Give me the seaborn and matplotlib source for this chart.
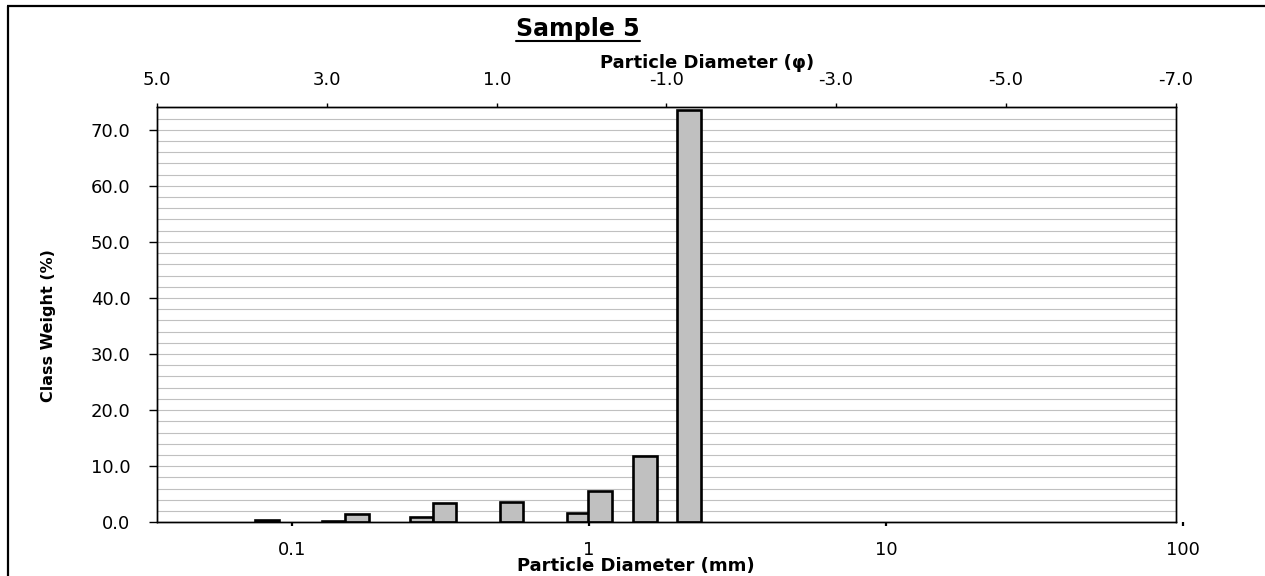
import numpy as np
import pandas as pd
import matplotlib
matplotlib.use("Agg")
import matplotlib.pyplot as plt
import seaborn as sns
from matplotlib.ticker import MultipleLocator, NullLocator
from matplotlib.lines import Line2D

# ---------------- data ----------------
diameter_mm = [0.0824, 0.138, 0.1655, 0.273, 0.327, 0.548, 0.923, 1.088, 1.546, 2.174]
class_weight = [0.4, 0.3, 1.5, 1.0, 3.4, 3.6, 1.7, 5.5, 11.9, 73.6]
y_ticks = [0, 10, 20, 30, 40, 50, 60, 70]
phi_ticks = [5.0, 3.0, 1.0, -1.0, -3.0, -5.0, -7.0]
mm_ticks = [0.1, 1, 10, 100]
mm_tick_labels = ["0.1", "1", "10", "100"]
title_text = "Sample 5"
x_label_mm = "Particle Diameter (mm)"
x_label_phi = "Particle Diameter (\u03c6)"
y_label = "Class Weight (%)"

# ---------------- style ----------------
sns.set_theme(style="white")
plt.rcParams["font.family"] = ["DejaVu Sans"]

W, H = 1265, 576
fig = plt.figure(figsize=(W / 100, H / 100), dpi=100)
fig.patch.set_facecolor("white")
fig.patch.set_edgecolor("white")
fig.patch.set_linewidth(0)


def fx(p):
    return p / W


def fy(p):
    return 1 - p / H


# plot-area pixel box
L, R, T, B = 157.3, 1175.5, 107.3, 522.3
ONE_MM_PX = 589.0
DECADE_PX = 297.2

ax = fig.add_axes([fx(L), fy(B), (R - L) / W, (B - T) / H])

df = pd.DataFrame({"d": diameter_mm, "w": class_weight})
log_d = np.log10(np.sort(df["d"].to_numpy()))
min_gap = np.min(np.diff(log_d))
bar_log_width = 0.079

sns.barplot(data=df, x="d", y="w", native_scale=True, log_scale=(10, False),
            width=bar_log_width / min_gap, color="#c0c0c0", saturation=1,
            edgecolor="black", linewidth=1.9, errorbar=None, ax=ax, zorder=3)

ax.set_xscale("log")
ax.set_xlim(10 ** ((L - ONE_MM_PX) / DECADE_PX), 10 ** ((R - ONE_MM_PX) / DECADE_PX))
ax.set_ylim(0, 74)
ax.set_xlabel("")
ax.set_ylabel("")
ax.xaxis.set_major_locator(NullLocator())
ax.xaxis.set_minor_locator(NullLocator())
ax.tick_params(axis="x", which="both", bottom=False, labelbottom=False)

ax.set_yticks(y_ticks, labels=[f"{v:.1f}" for v in y_ticks])
ax.yaxis.set_minor_locator(MultipleLocator(2))
ax.tick_params(axis="y", which="major", left=True, direction="out", length=5.8,
               width=1.0, color="black", labelsize=13, pad=13.5, labelcolor="black")
ax.tick_params(axis="y", which="minor", left=False, length=0)
ax.grid(axis="y", which="both", color="#c0c0c0", linewidth=0.8)
ax.grid(axis="x", visible=False)
ax.set_axisbelow(True)
for s in ax.spines.values():
    s.set_visible(True)
    s.set_color("black")
    s.set_linewidth(1.0)

# ---------------- top phi axis ----------------
axt = ax.twiny()
axt.set_xlim(5, -7)
axt.set_xticks(phi_ticks, labels=[f"{v:.1f}" for v in phi_ticks])
axt.xaxis.set_minor_locator(NullLocator())
axt.tick_params(axis="x", which="major", top=True, bottom=False, labeltop=True,
                labelbottom=False, direction="out", length=3, width=1.0,
                color="black", labelsize=13, pad=10, labelcolor="black")
axt.grid(False)
for s in axt.spines.values():
    s.set_color("black")
    s.set_linewidth(1.0)

# ---------------- bottom mm tick axis ----------------
BR = 1200.0
axb = fig.add_axes([fx(L), fy(B), (BR - L) / W, 0.0005])
axb.set_xscale("log")
axb.set_xlim(10 ** ((L - ONE_MM_PX) / DECADE_PX), 10 ** ((BR - ONE_MM_PX) / DECADE_PX))
axb.set_frame_on(False)
axb.patch.set_alpha(0)
axb.set_yticks([])
axb.set_xticks(mm_ticks, labels=mm_tick_labels)
axb.xaxis.set_minor_locator(NullLocator())
axb.tick_params(axis="x", which="major", bottom=True, direction="out", length=3.2,
                width=1.6, color="black", labelsize=13, pad=10.5, labelcolor="black")
axb.grid(False)

# ---------------- texts ----------------
fig.text(fx(636), fy(566), x_label_mm, ha="center", va="center",
         fontsize=13, fontweight="bold", color="black")
fig.text(fx(707), fy(63), x_label_phi, ha="center", va="center",
         fontsize=13, fontweight="bold", color="black")
fig.text(fx(49), fy(326), y_label, ha="center", va="center", rotation=90,
         fontsize=11.5, fontweight="bold", color="black")
t = fig.text(fx(578), fy(36), title_text, ha="center", va="baseline",
             fontsize=17, fontweight="bold", color="black")

fig.canvas.draw()
bb = t.get_window_extent()
fig.add_artist(Line2D([bb.x0 / W, bb.x1 / W], [fy(41), fy(41)],
                      transform=fig.transFigure, color="black", linewidth=1.5))

# outer chart border (only left and top edges fall inside the image)
fig.add_artist(Line2D([fx(8), fx(8)], [fy(6), -0.01], transform=fig.transFigure,
                      color="black", linewidth=1.6, solid_capstyle="butt"))
fig.add_artist(Line2D([fx(7), 1.01], [fy(6), fy(6)], transform=fig.transFigure,
                      color="black", linewidth=1.6, solid_capstyle="butt"))

fig.savefig("out.png", dpi=100, facecolor="white", edgecolor="white")
